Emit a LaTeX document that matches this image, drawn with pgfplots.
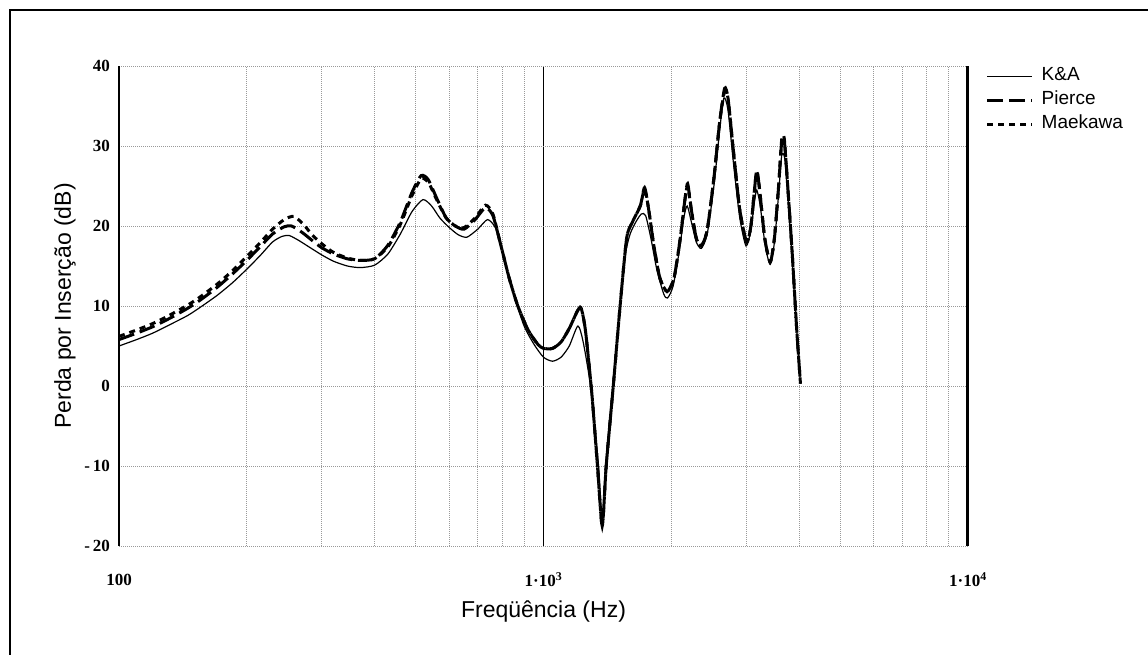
\documentclass[border=0pt]{standalone}
\usepackage{fontspec}
\setmainfont{Liberation Sans}
\newfontfamily\tickfont{Liberation Serif}
\usepackage{pgfplots}
\pgfplotsset{compat=1.18}

% Perda por insercao (dB) x frequencia (Hz)
\pgfplotstableread{
f    il
100  5.0
110  5.8
120  6.6
131  7.6
145  8.8
155  9.8
170  11.3
185  12.9
200  14.6
215  16.3
230  18.0
242  18.7
252  18.8
265  18.2
280  17.4
300  16.4
320  15.6
345  15.0
370  14.8
400  15.1
430  16.5
460  19.0
490  21.8
520  23.3
545  22.5
570  21.0
600  19.8
630  18.9
660  18.6
700  19.6
738  20.8
770  19.8
800  16.8
850  11.5
900  7.5
950  5.2
1000 3.6
1050 3.1
1100 3.6
1150 5.0
1205 7.5
1240 5.5
1290 0
1348 -10
1375 -17.5
1400 -10
1457 0
1515 10
1560 16.5
1600 19
1650 20.5
1700 21.5
1740 21.3
1790 18.5
1850 14.5
1920 11.5
1960 11
2020 12.5
2090 17
2140 21
2180 22.5
2230 20.5
2290 18
2354 17.2
2430 19
2520 25
2600 32
2660 36
2720 34.5
2800 28
2900 21
3000 17.5
3080 19.5
3140 23
3180 24.5
3240 22.5
3330 17.5
3420 15.2
3500 18
3580 24
3640 28.8
3700 28.5
3760 24
3850 16
3950 7
4030 0.3
}\kaData

\pgfplotstableread{
f    il
100  5.8
110  6.6
120  7.4
131  8.4
145  9.7
155  10.7
170  12.3
185  14.0
200  15.7
215  17.4
230  19.0
245  19.9
255  20.0
270  19.2
285  18.2
300  17.3
320  16.5
345  15.9
370  15.7
400  15.9
430  17.6
460  20.5
490  24.2
515  26.3
535  25.8
560  23.5
590  21.0
620  20.0
650  19.6
690  20.8
730  22.3
760  21.3
790  18.0
830  13.5
870  10.0
920  7.0
970  5.2
1000 4.7
1050 4.7
1100 5.5
1150 7.2
1200 9.3
1225 9.8
1255 7.0
1300 -1
1340 -10
1375 -17.5
1405 -10
1460 0
1515 10
1570 18.5
1620 20.5
1690 22.5
1730 24.8
1770 22
1820 17.5
1880 13.5
1955 11.8
2030 13.5
2100 18.5
2150 23
2185 25.3
2230 22
2290 18.5
2354 17.5
2430 19.5
2520 26
2600 33
2670 37.2
2720 36
2800 29.5
2900 22
3010 18
3080 20
3140 24.5
3180 27
3230 24.5
3320 18.5
3420 15.5
3500 18.5
3580 25
3640 30.5
3690 30.8
3750 26
3850 17
3950 7
4030 0.3
}\pierceData

\pgfplotstableread{
f    il
100  6.2
110  7.0
120  7.8
131  8.8
145  10.1
155  11.1
170  12.7
185  14.4
200  16.2
215  17.9
230  19.6
245  20.8
258  21.2
272  20.2
285  18.9
300  17.8
320  16.7
345  16.0
370  15.7
400  15.9
430  17.4
460  20.2
490  23.8
515  25.9
535  25.5
560  23.3
590  21.0
620  20.0
650  19.8
690  21.0
730  22.6
760  21.5
790  18.0
830  13.5
870  10.0
920  7.0
970  5.2
1000 4.7
1050 4.7
1100 5.5
1150 7.2
1200 9.3
1225 9.8
1255 7.0
1300 -1
1340 -10
1375 -17.5
1405 -10
1460 0
1515 10
1570 18.5
1620 20.5
1690 22.5
1730 24.6
1770 22
1820 17.5
1880 13.5
1955 11.8
2030 13.5
2100 18.5
2150 23
2185 25.0
2230 22
2290 18.5
2354 17.5
2430 19.5
2520 26
2600 33
2670 36.8
2720 36
2800 29.5
2900 22
3010 18
3080 20
3140 24.5
3180 26.8
3230 24.5
3320 18.5
3420 15.5
3500 18.5
3580 25
3640 30.8
3690 31.0
3750 26
3850 17
3950 7
4030 0.3
}\maekawaData

\begin{document}
\begin{tikzpicture}[x=1pt,y=1pt]
\useasboundingbox (0,0) rectangle (1148,655);
\fill[white] (0,0) rectangle (1148,655);
% outer frame
\draw[line width=2pt] (10,0) -- (10,645) -- (1148,645);
\begin{axis}[
  at={(119pt,109pt)}, anchor=south west,
  scale only axis, width=849pt, height=480pt,
  xmode=log, xmin=100, xmax=10000,
  ymin=-20, ymax=40,
  ytick={-20,-10,0,10,20,30,40},
  yticklabels={-\,20,-\,10,0,10,20,30,40},
  xtick={100,1000,10000},
  xticklabels={100,1\textperiodcentered10\textsuperscript{3},1\textperiodcentered10\textsuperscript{4}},
  ticklabel style={font=\tickfont\bfseries\fontsize{17}{17}\selectfont},
  yticklabel style={anchor=east, inner sep=0pt, xshift=-9pt},
  xticklabel style={anchor=center, inner sep=0pt, yshift=-34pt},
  major tick length=0pt, minor tick length=0pt,
  xmajorgrids, xminorgrids, ymajorgrids,
  major x grid style={black, solid, line width=1.5pt},
  minor x grid style={gray!80, dash pattern=on 1pt off 1pt, line width=0.9pt},
  major y grid style={gray!80, dash pattern=on 1pt off 1pt, line width=0.9pt},
  axis line style={draw=none},
  xlabel={Freqüência (Hz)},
  ylabel={Perda por Inserção (dB)},
  label style={font=\fontsize{23}{23}\selectfont},
  xlabel style={at={(axis description cs:0.5,-0.1375)}, anchor=center},
  ylabel style={at={(axis description cs:-0.0636,0.5)}, anchor=center},
  legend style={at={(axis description cs:1,1)}, anchor=north west,
    xshift=17.5pt, yshift=1.5pt,
    draw=none, fill=none, inner sep=0pt, row sep=0pt,
    font=\fontsize{19}{19}\selectfont,
    nodes={inner sep=2pt, text height=14pt, text depth=6pt},
    /tikz/every odd column/.append style={column sep=6pt}},
  legend cell align=left,
  legend image code/.code={\draw[#1] (0pt,0pt) -- (45pt,0pt);},
]
% top and bottom borders share the grid style; left and right are solid
\draw[gray!80, dash pattern=on 1pt off 1pt, line width=0.9pt] (rel axis cs:0,1) -- (rel axis cs:1,1);
\draw[gray!80, dash pattern=on 1pt off 1pt, line width=0.9pt] (rel axis cs:0,0) -- (rel axis cs:1,0);
\draw[black, line width=2pt] (rel axis cs:0,0) -- (rel axis cs:0,1);
\draw[black, line width=4pt] (rel axis cs:1,0) -- (rel axis cs:1,1);

\addplot[black, line width=1.2pt, smooth, tension=0.4] table[x=f, y=il] {\kaData};
\addlegendentry{K\&A}
\addplot[black, line width=3pt, dash pattern=on 16pt off 6pt, smooth, tension=0.4] table[x=f, y=il] {\pierceData};
\addlegendentry{Pierce}
\addplot[black, line width=3pt, dash pattern=on 6pt off 5pt, smooth, tension=0.4] table[x=f, y=il] {\maekawaData};
\addlegendentry{Maekawa}
\end{axis}
\end{tikzpicture}
\end{document}
